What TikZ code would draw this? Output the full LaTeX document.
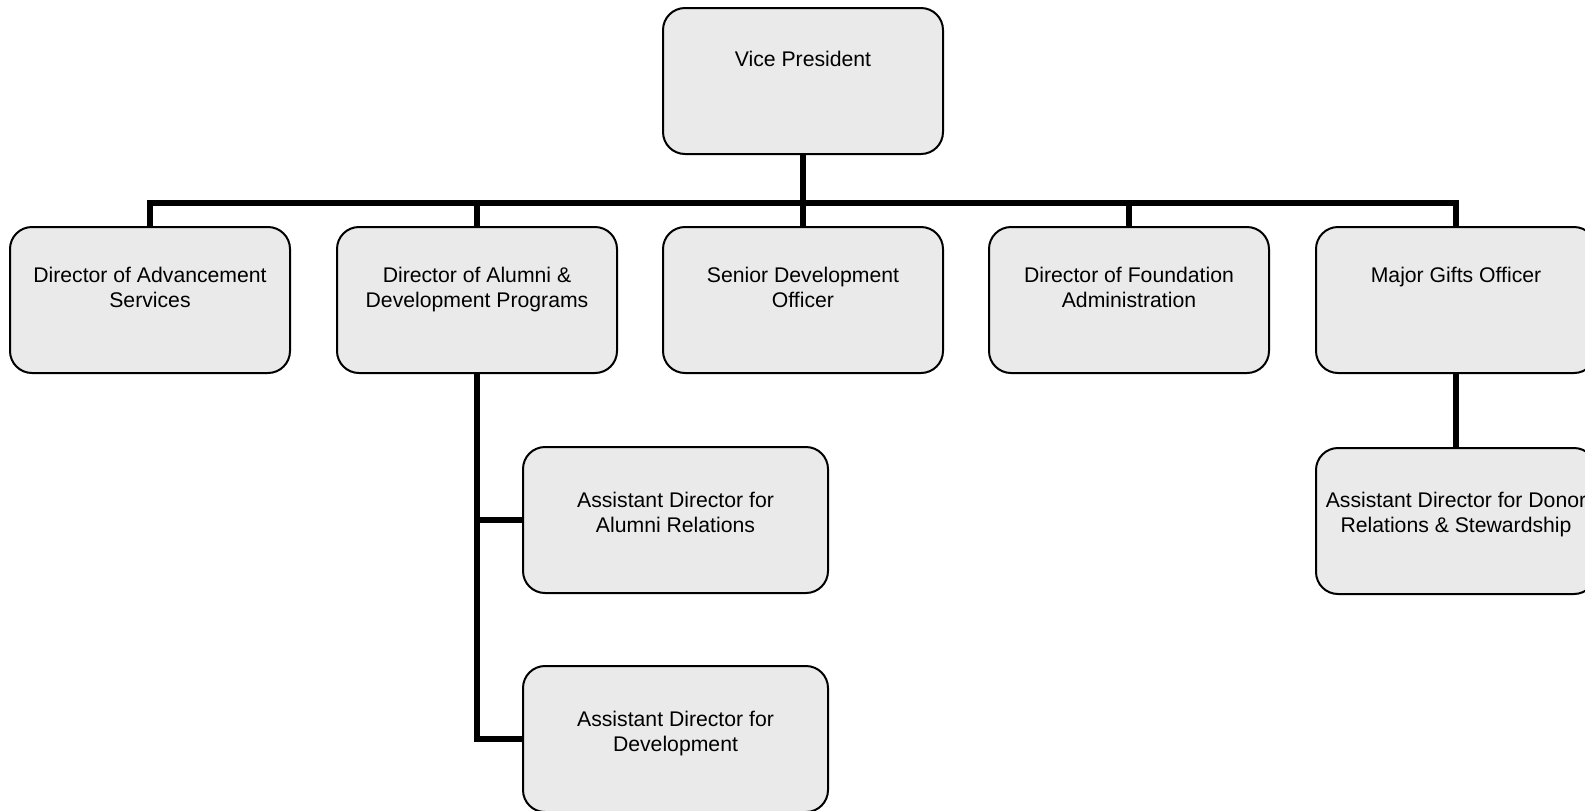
\documentclass[tikz,border=0pt]{standalone}
\usepackage{fontspec}
\setmainfont{Liberation Sans}
\definecolor{boxfill}{HTML}{EAEAEA}
\newcommand{\posttext}[2][20pt]{\parbox[c][73pt][t]{136pt}{\centering\vspace*{#1}#2}}

\begin{document}
\begin{tikzpicture}[x = 0.5pt, y = -0.5pt,
	post/.style = {draw, line width = 1pt, fill = boxfill, rounded corners = 11pt, minimum width = 140pt, minimum height = 73pt, inner sep = 0pt, font = \fontsize{10.6}{12.5}\selectfont},
	wide/.style = {post, minimum width = 152.5pt},
	link/.style = {line width = 3pt}]

	\useasboundingbox (0, 0) rectangle (1585, 810);

	% Top

	\node [post] (vp) at (803, 81) {\posttext[21.5pt]{Vice President}};

	% Directors

	\node [post] (das) at (150, 300) {\posttext{Director of Advancement\\ Services}};
	\node [post] (dap) at (477, 300) {\posttext{Director of Alumni \&\\ Development Programs}};
	\node [post] (sdo) at (803, 300) {\posttext{Senior Development\\ Officer}};
	\node [post] (dfa) at (1129, 300) {\posttext{Director of Foundation\\ Administration}};
	\node [post] (mgo) at (1456, 300) {\posttext{Major Gifts Officer}};

	% Assistants

	\node [wide] (aar) at (675.5, 520) {\posttext[22.5pt]{Assistant Director for\\ Alumni Relations}};
	\node [wide] (aad) at (675.5, 739) {\posttext[22.5pt]{Assistant Director for\\ Development}};
	\node [post] (adr) at (1456, 521) {\posttext[22pt]{Assistant Director for Donor\\ Relations \& Stewardship}};

	% Lines

	\coordinate (bus) at (803, 203);
	\draw [link] (das.north) |- (bus) -| (mgo.north);
	\draw [link] (vp.south) -- (sdo.north);
	\draw [link] (dap.north) -- (dap.north |- bus);
	\draw [link] (dfa.north) -- (dfa.north |- bus);
	\draw [link] (dap.south) |- (aar.west);
	\draw [link] (dap.south) |- (aad.west);
	\draw [link] (mgo.south) -- (adr.north);

\end{tikzpicture}
\end{document}
